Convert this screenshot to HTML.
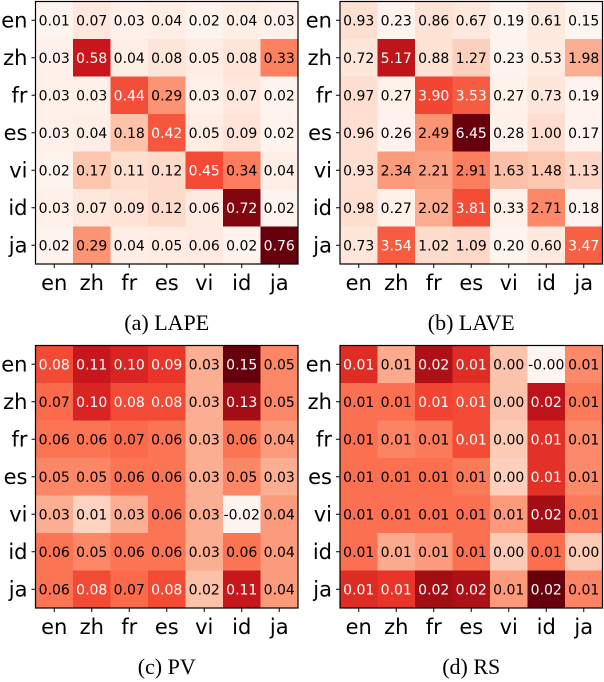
<!DOCTYPE html>
<html><head><meta charset="utf-8">
<style>
html,body{margin:0;padding:0;background:#fff;}
svg{display:block;}
</style></head>
<body>
<svg id="fig" width="604" height="682" viewBox="0 0 604 682" xmlns="http://www.w3.org/2000/svg"></svg>
<script>
const langs = ["en","zh","fr","es","vi","id","ja"];
const lapeValues = [
 [0.01,0.07,0.03,0.04,0.02,0.04,0.03],
 [0.03,0.58,0.04,0.08,0.05,0.08,0.33],
 [0.03,0.03,0.44,0.29,0.03,0.07,0.02],
 [0.03,0.04,0.18,0.424,0.05,0.09,0.02],
 [0.02,0.17,0.11,0.12,0.45,0.34,0.04],
 [0.03,0.07,0.09,0.12,0.06,0.72,0.02],
 [0.02,0.29,0.04,0.05,0.06,0.02,0.76]];
const laveValues = [
 [0.93,0.23,0.86,0.67,0.19,0.61,0.15],
 [0.72,5.17,0.88,1.27,0.23,0.53,1.98],
 [0.97,0.27,3.90,3.53,0.27,0.73,0.19],
 [0.96,0.26,2.49,6.45,0.28,1.00,0.17],
 [0.93,2.34,2.21,2.91,1.63,1.48,1.13],
 [0.98,0.27,2.02,3.81,0.33,2.71,0.18],
 [0.73,3.54,1.02,1.09,0.20,0.60,3.47]];
const pvValues = [
 [0.08,0.11,0.10,0.09,0.03,0.15,0.05],
 [0.0652,0.10,0.08,0.08,0.03,0.13,0.05],
 [0.06,0.06,0.0652,0.06,0.03,0.06,0.04],
 [0.05,0.05,0.06,0.06,0.03,0.05,0.03],
 [0.03,0.01,0.03,0.06,0.03,-0.019,0.04],
 [0.06,0.05,0.06,0.06,0.03,0.06,0.04],
 [0.06,0.08,0.0652,0.08,0.02,0.11,0.04]];
const rsValues = [
 [0.0148,0.0063,0.0186,0.0148,0.0045,-0.0005,0.0085],
 [0.0103,0.0103,0.0130,0.0126,0.0045,0.0175,0.0096],
 [0.0103,0.0090,0.0096,0.0126,0.0040,0.0144,0.0085],
 [0.0103,0.0103,0.0105,0.0096,0.0036,0.0144,0.0085],
 [0.0103,0.0103,0.0103,0.0103,0.0074,0.0193,0.0096],
 [0.0103,0.0063,0.0074,0.0103,0.0040,0.0105,0.0040],
 [0.0148,0.0141,0.0193,0.0186,0.0074,0.0220,0.0090]];
const captions = ["(a) LAPE","(b) LAVE","(c) PV","(d) RS"];

const NS="http://www.w3.org/2000/svg";
const svg=document.getElementById('fig');
const stops=["#fff5f0","#fee0d2","#fcbba1","#fc9272","#fb6a4a","#ef3b2c","#cb181d","#a50f15","#67000d"].map(h=>[parseInt(h.substr(1,2),16),parseInt(h.substr(3,2),16),parseInt(h.substr(5,2),16)]);
function reds(t){t=Math.max(0,Math.min(1,t));const p=t*8;const i=Math.min(7,Math.floor(p));const f=p-i;
 const c=stops[i].map((v,k)=>Math.round(v+(stops[i+1][k]-v)*f));return `rgb(${c[0]},${c[1]},${c[2]})`;}
function mk(tag,attrs,parent){const e=document.createElementNS(NS,tag);for(const k in attrs)e.setAttribute(k,attrs[k]);(parent||svg).appendChild(e);return e;}
const SANS="'DejaVu Sans', sans-serif";
const panels=[
 {vals:lapeValues,x0:35.5,y0:1.5,name:'lape'},
 {vals:laveValues,x0:340,y0:1.5,name:'lave'},
 {vals:pvValues,x0:35.5,y0:345.5,name:'pv'},
 {vals:rsValues,x0:340,y0:345.5,name:'rs'}];
const W=262.5, cell=W/7;
panels.forEach((p,pi)=>{
 const g=mk('g',{});
 
 
 const flat=p.vals.flat();const mn=Math.min(...flat),mx=Math.max(...flat);
 const xs=c=>p.x0+c*cell, ys=r=>p.y0+r*cell;
 p.vals.forEach((row,r)=>row.forEach((v,c)=>{
  const n=(v-mn)/(mx-mn);
  const rect=mk('rect',{x:xs(c),y:ys(r),width:cell+0.3,height:cell+0.3,fill:reds(n)},g);
  
  
  const t=mk('text',{x:xs(c)+cell/2,y:ys(r)+cell/2+5,'text-anchor':'middle','font-family':SANS,'font-size':'14',fill:n>0.5?'#fff':'#000'},g);
  
  
  t.textContent=v.toFixed(2);
 }));
 const frame=mk('rect',{x:p.x0,y:p.y0,width:W,height:W,fill:'none',stroke:'#000','stroke-width':1.2},g);
 
 
 langs.forEach((l,i)=>{
  const cy=ys(i)+cell/2, cx=xs(i)+cell/2;
  mk('line',{x1:p.x0-4,x2:p.x0,y1:cy,y2:cy,stroke:'#000','stroke-width':1},g);
  mk('line',{x1:cx,x2:cx,y1:p.y0+W,y2:p.y0+W+4,stroke:'#000','stroke-width':1},g);
  const yl=mk('text',{x:p.x0-8,y:cy+7,'text-anchor':'end','font-family':SANS,'font-size':'21'},g);
  
  
  yl.textContent=l;
  const xl=mk('text',{x:cx,y:p.y0+W+26,'text-anchor':'middle','font-family':SANS,'font-size':'21'},g);
  
  
  xl.textContent=l;
 });
 const cap=mk('text',{x:p.x0+W/2,y:p.y0+W+66,'text-anchor':'middle','font-family':"'Liberation Serif', serif",'font-size':'22'},g);
 
 
 cap.textContent=captions[pi];
});
</script>
</body></html>
